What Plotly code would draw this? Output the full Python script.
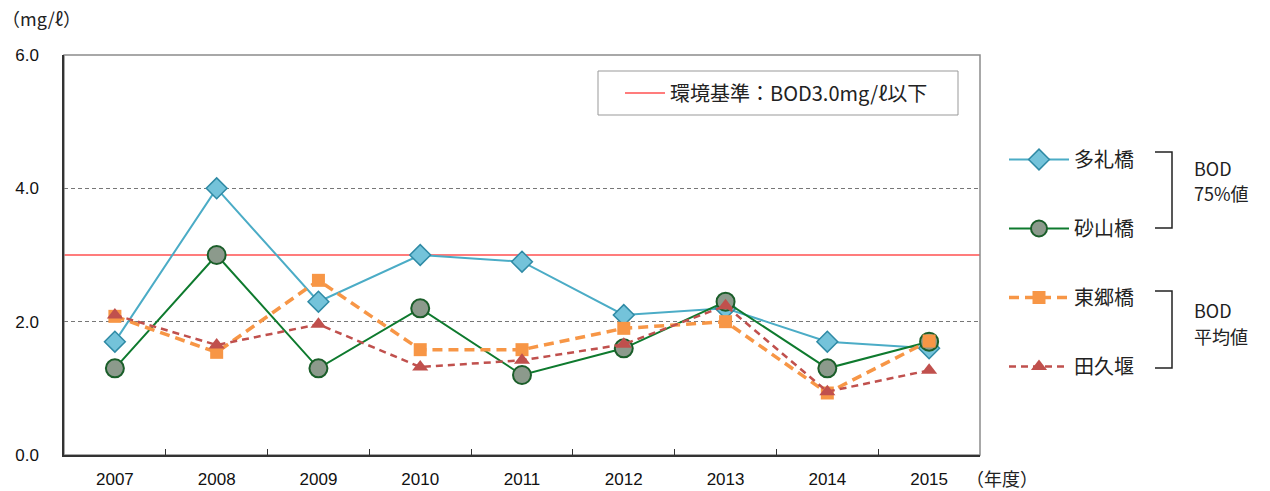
import plotly.graph_objects as go

years = ["2007", "2008", "2009", "2010", "2011", "2012", "2013", "2014", "2015"]
tarebashi = [1.7, 4.0, 2.3, 3.0, 2.9, 2.1, 2.2, 1.7, 1.6]
sunayamabashi = [1.3, 3.0, 1.3, 2.2, 1.2, 1.6, 2.3, 1.3, 1.7]
togobashi = [2.08, 1.54, 2.62, 1.58, 1.58, 1.9, 2.0, 0.93, 1.71]
takuzeki = [2.1, 1.65, 1.96, 1.32, 1.42, 1.66, 2.24, 0.95, 1.27]
standard = 3.0
y_ticks = [0.0, 2.0, 4.0, 6.0]

W, H = 1270, 491
L, R, T, B = 64, 980, 55, 455
FONT = "Noto Sans CJK JP, sans-serif"
NUMFONT = "Liberation Sans, Arial, sans-serif"


def px(x):
    return (x - L) / (R - L)


def py(y):
    return (B - y) / (B - T)


fig = go.Figure()

fig.add_trace(go.Scatter(
    x=years, y=tarebashi, name="多礼橋", mode="lines+markers",
    line=dict(color="#4BACC6", width=2),
    marker=dict(symbol="diamond", size=16, color="#74C3DA",
                line=dict(color="#2F8AA5", width=1.5)),
    legendgroup="a"))
fig.add_trace(go.Scatter(
    x=years, y=sunayamabashi, name="砂山橋", mode="lines+markers",
    line=dict(color="#0E7A2E", width=2),
    marker=dict(symbol="circle", size=18, color="#8C9A8C",
                line=dict(color="#1B5E2A", width=2)),
    legendgroup="b"))
fig.add_trace(go.Scatter(
    x=years, y=togobashi, name="東郷橋", mode="lines+markers",
    line=dict(color="#F79646", width=3.5, dash="10px,6px"),
    marker=dict(symbol="square", size=13, color="#F79646"),
    legendgroup="c"))
fig.add_trace(go.Scatter(
    x=years, y=takuzeki, name="田久堰", mode="lines+markers",
    line=dict(color="#C0504D", width=2.5, dash="7px,5px"),
    marker=dict(symbol="triangle-up", size=14, color="#C0504D"),
    legendgroup="d"))

# standard line (full width) with its own legend
fig.add_shape(type="line", xref="paper", x0=0, x1=1, yref="y",
              y0=standard, y1=standard,
              line=dict(color="rgba(255,80,80,0.75)", width=2),
              layer="below", showlegend=True, legend="legend2",
              name="環境基準：BOD3.0mg/ℓ以下")

# plot frame (top/right gray)
fig.add_shape(type="rect", xref="paper", yref="paper", x0=0, x1=1, y0=0, y1=1,
              line=dict(color="#8C8C8C", width=1.5), layer="below")

# box around the standard legend
fig.add_shape(type="rect", xref="paper", yref="paper", x0=px(598), x1=px(958),
              y0=py(115), y1=py(71), line=dict(color="#999", width=1),
              fillcolor="white", layer="below")

# brackets
for (ya, yb) in [(152, 228), (291, 368)]:
    fig.add_shape(type="path", xref="paper", yref="paper",
                  path=f"M {px(1155)} {py(ya)} L {px(1172)} {py(ya)} L {px(1172)} {py(yb)} L {px(1155)} {py(yb)}",
                  line=dict(color="#222", width=1.5))

side_labels = [("BOD", 168), ("75%値", 193), ("BOD", 310), ("平均値", 336)]
for text, yy in side_labels:
    fig.add_annotation(text=text, x=px(1192), y=py(yy), xref="paper", yref="paper",
                       xanchor="left", yanchor="middle", showarrow=False, align="left",
                       font=dict(family=FONT, size=18, color="#222"))

fig.add_annotation(text="（mg/ℓ）", x=px(0), y=py(18), xref="paper", yref="paper",
                   xanchor="left", yanchor="middle", showarrow=False,
                   font=dict(family=FONT, size=18, color="#222"))
fig.add_annotation(text="（年度）", x=px(964), y=py(478), xref="paper", yref="paper",
                   xanchor="left", yanchor="middle", showarrow=False,
                   font=dict(family=FONT, size=18, color="#222"))

fig.update_layout(
    width=W, height=H,
    margin=dict(l=L, r=W - R, t=T, b=H - B, autoexpand=False),
    paper_bgcolor="white", plot_bgcolor="white",
    font=dict(family=FONT, size=16, color="#222"),
    xaxis=dict(type="category", range=[-0.5, len(years) - 0.5],
               showgrid=False, showline=True, linecolor="#333", linewidth=1.5,
               ticks="inside", tickson="boundaries", ticklen=6, tickcolor="#333",
               ticklabelstandoff=8, automargin=False,
               tickfont=dict(family=NUMFONT, size=17, color="#111")),
    yaxis=dict(range=[0, 6], tickvals=y_ticks, ticktext=[f"{v:.1f}" for v in y_ticks],
               showgrid=True, gridcolor="#777", griddash="4px,3px", gridwidth=1,
               showline=True, linecolor="#333", linewidth=1.5, zeroline=False,
               ticks="", ticklabelstandoff=20, automargin=False,
               tickfont=dict(family=NUMFONT, size=17, color="#111")),
    legend=dict(x=px(1004), y=py(140), xanchor="left", yanchor="top",
                font=dict(family=FONT, size=20, color="#222"),
                tracegroupgap=40, bgcolor="rgba(0,0,0,0)", itemwidth=60),
    legend2=dict(x=px(620), y=py(93), xanchor="left", yanchor="middle",
                 orientation="h", itemwidth=40,
                 font=dict(family=FONT, size=20, color="#222"),
                 borderwidth=0, bgcolor="rgba(0,0,0,0)"),
)

fig.write_html("out.html", config={"displayModeBar": False},
               post_script="document.body.style.margin='0';")
